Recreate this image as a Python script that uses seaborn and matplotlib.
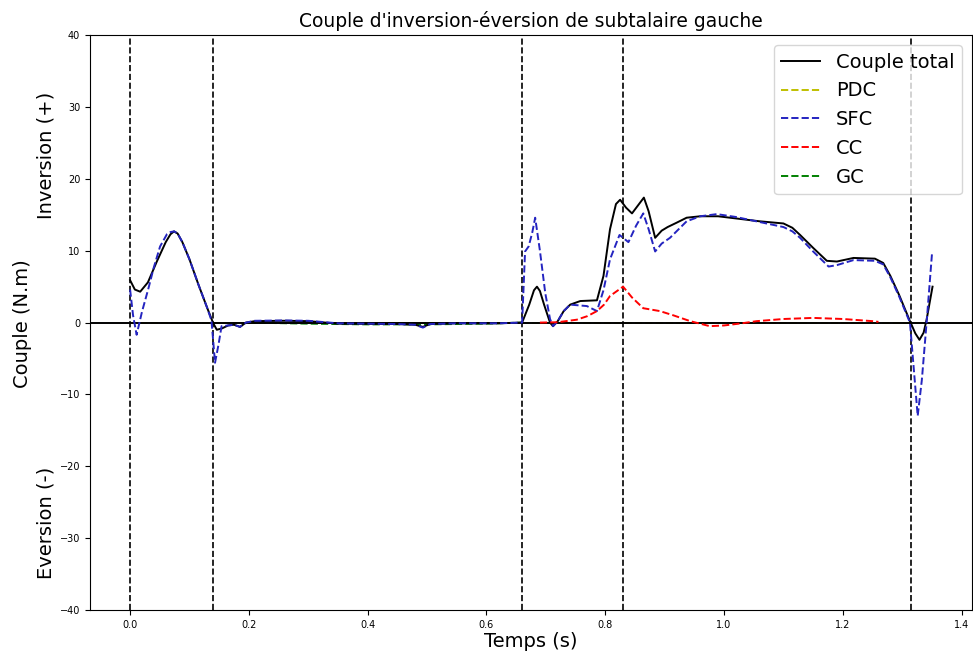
import numpy as np
import pandas as pd
import matplotlib
matplotlib.use("Agg")
import matplotlib.pyplot as plt
import seaborn as sns

# Couple total (black solid)
t_total = [0.000, 0.008, 0.017, 0.030, 0.045, 0.060, 0.068, 0.074, 0.080, 0.088, 0.100, 0.115, 0.130, 0.140,
           0.146, 0.155, 0.165, 0.175, 0.185, 0.195, 0.21, 0.26, 0.30, 0.35, 0.45, 0.48, 0.493,
           0.505, 0.55, 0.62, 0.66, 0.672, 0.680, 0.685, 0.690, 0.697, 0.707, 0.712, 0.720, 0.730,
           0.741, 0.758, 0.786, 0.797, 0.808, 0.818, 0.825, 0.835, 0.845, 0.855, 0.865, 0.873,
           0.884, 0.895, 0.905, 0.92, 0.937, 0.96, 0.99, 1.02, 1.06, 1.10, 1.115, 1.128, 1.15,
           1.173, 1.19, 1.218, 1.254, 1.268, 1.28, 1.295, 1.313, 1.322, 1.329, 1.336, 1.341, 1.351]
total = [5.9, 4.6, 4.3, 5.6, 8.5, 11.2, 12.3, 12.7, 12.4, 11.2, 8.8, 5.3, 2.0, -0.1,
         -1.0, -0.8, -0.4, -0.3, -0.6, 0.0, 0.2, 0.25, 0.2, -0.15, -0.2, -0.3, -0.6,
         -0.2, -0.1, -0.1, 0.0, 2.5, 4.5, 5.0, 4.4, 2.5, 0.0, -0.5, 0.2, 1.6,
         2.5, 3.0, 3.1, 6.5, 13.0, 16.5, 17.1, 16.0, 15.2, 16.3, 17.4, 15.5,
         11.8, 12.8, 13.3, 13.9, 14.6, 14.8, 14.8, 14.5, 14.1, 13.8, 13.2, 12.2, 10.4,
         8.6, 8.5, 9.0, 8.9, 8.3, 6.5, 3.8, 0.2, -1.5, -2.4, -1.4, 0.4, 5.0]

# SFC (blue dashed)
t_sfc = [0.000, 0.005, 0.011, 0.020, 0.031, 0.040, 0.0505, 0.062, 0.068, 0.074, 0.080, 0.088, 0.100, 0.115,
         0.130, 0.137, 0.143, 0.149, 0.154, 0.165, 0.175, 0.185, 0.195, 0.21, 0.26, 0.30, 0.35,
         0.45, 0.48, 0.493, 0.505, 0.55, 0.62, 0.66, 0.665, 0.671, 0.677, 0.682, 0.690, 0.699,
         0.707, 0.712, 0.720, 0.730, 0.741, 0.769, 0.786, 0.797, 0.808, 0.824, 0.839, 0.852, 0.864,
         0.873, 0.884, 0.895, 0.909, 0.937, 0.96, 0.988, 1.02, 1.06, 1.10, 1.115, 1.128, 1.15,
         1.176, 1.19, 1.218, 1.254, 1.268, 1.28, 1.295, 1.313, 1.319, 1.326, 1.333, 1.341, 1.350]
sfc = [4.6, 1.0, -1.7, 1.5, 4.8, 7.7, 10.6, 12.3, 12.6, 12.7, 12.4, 11.2, 8.8, 5.3,
       2.0, 0.3, -5.6, -3.0, -0.5, -0.4, -0.3, -0.6, 0.0, 0.25, 0.3, 0.25, -0.1,
       -0.2, -0.3, -0.7, -0.2, -0.1, -0.1, 0.0, 9.9, 10.6, 12.5, 14.6, 10.0, 4.1,
       0.5, -0.5, 0.2, 1.6, 2.5, 2.3, 1.6, 4.5, 8.8, 12.2, 11.2, 13.5, 15.2,
       13.0, 9.9, 11.0, 11.8, 14.1, 14.8, 15.1, 14.7, 14.0, 13.3, 12.7, 11.8, 9.9,
       7.8, 8.0, 8.7, 8.6, 8.1, 6.3, 3.6, 0.0, -6.0, -13.0, -8.0, 0.0, 9.5]

# CC (red dashed)
t_cc = [0.69, 0.72, 0.752, 0.77, 0.786, 0.798, 0.808, 0.83, 0.845, 0.864, 0.892, 0.915,
        0.943, 0.976, 1.0, 1.03, 1.055, 1.10, 1.15, 1.20, 1.25, 1.26]
cc = [0.0, 0.05, 0.4, 0.9, 1.6, 2.5, 3.7, 5.0, 3.5, 2.0, 1.6, 1.0,
      0.2, -0.5, -0.4, -0.1, 0.2, 0.5, 0.65, 0.5, 0.2, 0.1]

# GC (green dashed)
t_gc = [0.20, 0.30, 0.40, 0.50, 0.60, 0.66]
gc = [0.0, -0.15, -0.25, -0.25, -0.15, 0.0]

# PDC (yellow dashed)
t_pdc = [0.0, 1.35]
pdc = [0.0, 0.0]

events = [0.0, 0.14, 0.66, 0.83, 1.315]

fig, ax = plt.subplots(figsize=(9.73, 6.53), dpi=100)
fig.subplots_adjust(left=0.0925, right=0.999, top=0.946, bottom=0.066)

lw = 1.4
sns.lineplot(x=t_total, y=total, ax=ax, color='k', lw=lw, label='Couple total', estimator=None, zorder=4)
sns.lineplot(x=t_pdc, y=pdc, ax=ax, color='y', lw=lw, linestyle='--', label='PDC', estimator=None, zorder=2)
sns.lineplot(x=t_sfc, y=sfc, ax=ax, color='#2424c0', lw=lw, linestyle='--', label='SFC', estimator=None, zorder=4)
sns.lineplot(x=t_cc, y=cc, ax=ax, color='r', lw=lw, linestyle='--', label='CC', estimator=None, zorder=4)
sns.lineplot(x=t_gc, y=gc, ax=ax, color='g', lw=lw, linestyle='--', label='GC', estimator=None, zorder=2)

ax.axhline(0, color='k', lw=1.4, zorder=3)
for ev in events:
    ax.axvline(ev, color='k', linestyle='--', lw=1.2, zorder=3)

ax.set_xlim(-0.0675, 1.4175)
ax.set_ylim(-40, 40)
ax.set_xticks(np.arange(0, 1.41, 0.2))
ax.tick_params(labelsize=7)
ax.set_title("Couple d'inversion-éversion de subtalaire gauche", fontsize=13.5)
ax.set_xlabel("Temps (s)", fontsize=14, labelpad=2)
ax.set_ylabel("")
ax.legend(loc='upper right', fontsize=14)

fig.text(0.023, 0.505, "Couple (N.m)", rotation=90, fontsize=14, ha='center', va='center')
fig.text(0.047, 0.762, "Inversion (+)", rotation=90, fontsize=14, ha='center', va='center')
fig.text(0.047, 0.2, "Eversion (-)", rotation=90, fontsize=14, ha='center', va='center')

fig.savefig("out.png", dpi=100)
